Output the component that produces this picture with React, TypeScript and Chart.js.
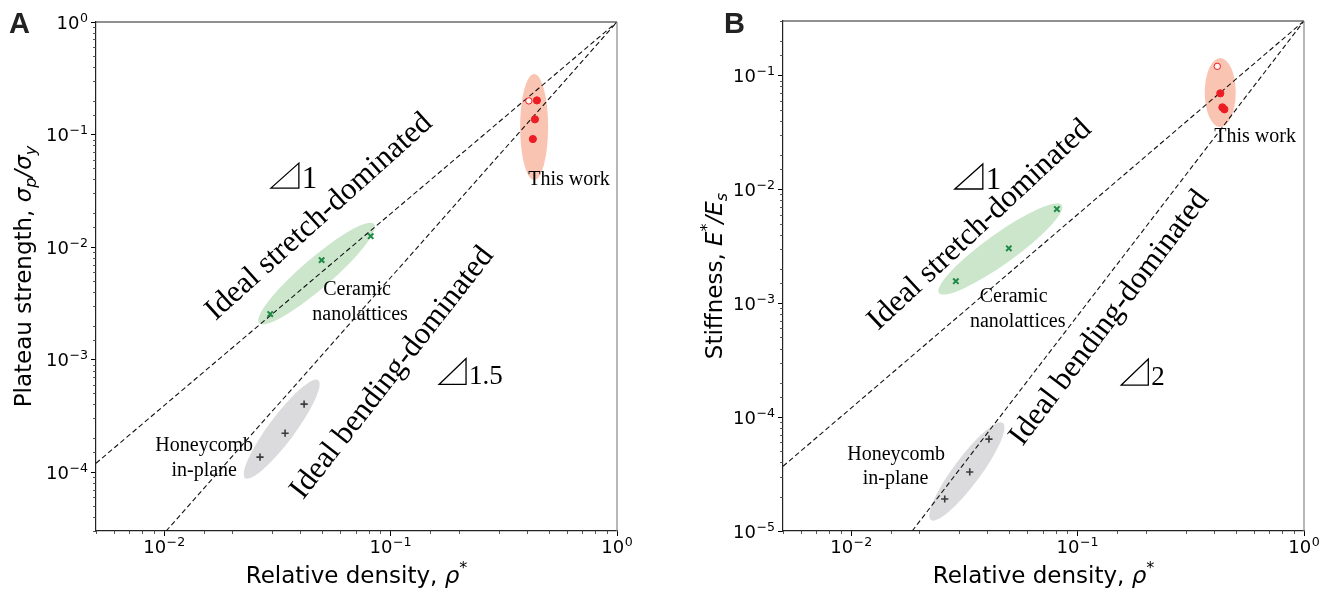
import React, { useEffect, useRef } from "react";
import { Chart, registerables } from "chart.js";

Chart.register(...registerables);

// ===== Axis limits =====
const densityLimits = [0.005, 1];
const strengthLimits = [3e-5, 1];
const stiffnessLimits = [1e-5, 0.3];

// ===== Panel A: plateau strength =====
const aThisWorkDensity = [0.443, 0.434, 0.425];
const aThisWorkStrength = [0.201, 0.1365, 0.0912];
const aThisWorkOpenDensity = [0.408];
const aThisWorkOpenStrength = [0.199];
const aCeramicDensity = [0.0294, 0.0496, 0.0817];
const aCeramicStrength = [0.00254, 0.00766, 0.0125];
const aHoneycombDensity = [0.0265, 0.0342, 0.0415];
const aHoneycombStrength = [1.36e-4, 2.22e-4, 4.02e-4];
const aStretchLineDensity = [0.005, 1];
const aStretchLineStrength = [1.2e-4, 1];
const aBendingLineDensity = [0.0102, 1];
const aBendingLineStrength = [3e-5, 1];

// ===== Panel B: stiffness =====
const bThisWorkDensity = [0.427, 0.436, 0.445];
const bThisWorkStiffness = [0.0695, 0.0524, 0.0503];
const bThisWorkOpenDensity = [0.414];
const bThisWorkOpenStiffness = [0.12];
const bCeramicDensity = [0.029, 0.0497, 0.081];
const bCeramicStiffness = [0.00156, 0.00303, 0.0067];
const bHoneycombDensity = [0.0259, 0.0334, 0.0406];
const bHoneycombStiffness = [1.91e-5, 3.3e-5, 6.4e-5];
const bStretchLineDensity = [0.005, 1];
const bStretchLineStiffness = [3.7e-5, 0.3];
const bBendingLineDensity = [0.0186, 1];
const bBendingLineStiffness = [1e-5, 0.3];

// ===== Text labels =====
const tickBase = "10";
const stretchLabel = "Ideal stretch-dominated";
const bendingLabel = "Ideal bending-dominated";
const thisWorkLabel = "This work";
const ceramicLabel = ["Ceramic", "nanolattices"];
const honeycombLabel = ["Honeycomb", "in-plane"];
const xTitle = [
  { t: "Relative density, " },
  { t: "ρ", it: true },
  { t: "*", sup: true },
];
const aYTitle = [
  { t: "Plateau strength, " },
  { t: "σ", it: true },
  { t: "p", it: true, sub: true },
  { t: "/σ", it: true },
  { t: "y", it: true, sub: true },
];
const bYTitle = [
  { t: "Stiffness, " },
  { t: "E", it: true },
  { t: "*", sup: true },
  { t: "/E", it: true },
  { t: "s", it: true, sub: true },
];

const isDecade = (v: number) => {
  const l = Math.log10(v);
  return Math.abs(l - Math.round(l)) < 1e-6;
};
const decadeExponent = (v: number) => String(Math.round(Math.log10(v))).replace("-", "\u2212");

const pts = (xs: number[], ys: number[]) => xs.map((x, i) => ({ x, y: ys[i] }));

type Seg = { t: string; it?: boolean; sub?: boolean; sup?: boolean };

const TITLE_SIZE = 23;
const TICK_SIZE = 18;

function drawRich(ctx: CanvasRenderingContext2D, segs: Seg[], x: number, y: number, size: number, rot: number) {
  ctx.save();
  ctx.translate(x, y);
  ctx.rotate(rot);
  const fontFor = (s: Seg) =>
    `${s.it ? "italic " : ""}${s.sub || s.sup ? Math.round(size * 0.7) : size}px "DejaVu Sans"`;
  let total = 0;
  const widths = segs.map((s) => {
    ctx.font = fontFor(s);
    const w = ctx.measureText(s.t).width;
    total += w;
    return w;
  });
  let cx = -total / 2;
  ctx.textAlign = "left";
  ctx.textBaseline = "alphabetic";
  ctx.fillStyle = "#000";
  segs.forEach((s, i) => {
    ctx.font = fontFor(s);
    const dy = s.sub ? size * 0.22 : s.sup ? -size * 0.42 : 0;
    ctx.fillText(s.t, cx, dy);
    cx += widths[i];
  });
  ctx.restore();
}

function drawTickLabel(ctx: CanvasRenderingContext2D, v: number, x: number, y: number, align: "center" | "right") {
  const exp = decadeExponent(v);
  const big = `${TICK_SIZE}px "DejaVu Sans"`;
  const small = `${Math.round(TICK_SIZE * 0.7 * 10) / 10}px "DejaVu Sans"`;
  ctx.font = big;
  const wb = ctx.measureText(tickBase).width;
  ctx.font = small;
  const we = ctx.measureText(exp).width;
  const total = wb + 0.5 + we;
  const x0 = align === "center" ? x - total / 2 : x - total;
  ctx.textAlign = "left";
  ctx.textBaseline = "alphabetic";
  ctx.fillStyle = "#000";
  ctx.font = big;
  ctx.fillText(tickBase, x0, y);
  ctx.font = small;
  ctx.fillText(exp, x0 + wb + 0.5, y - 7);
}

type Panel = {
  letter: string;
  letterX: number;
  yLimits: number[];
  yTitle: Seg[];
  yTitleX: number;
  layout: { left: number; right: number; top: number; xHeight: number; yWidth: number };
  datasets: any[];
  ellipses: { x: number[]; y: number[]; w: number; color: string }[];
  texts: { text: string; x: number; y: number; size: number; angle: number }[];
  triangles: { x: number; y: number; w: number; h: number; label: string; size: number }[];
};

function makeDatasets(
  tw: [number[], number[]], two: [number[], number[]], cer: [number[], number[]],
  hc: [number[], number[]], sl: [number[], number[]], bl: [number[], number[]]
) {
  return [
    { data: pts(tw[0], tw[1]), pointStyle: "circle", pointRadius: 3.6, borderWidth: 1,
      backgroundColor: "#ec1c24", borderColor: "#ec1c24" },
    { data: pts(two[0], two[1]), pointStyle: "circle", pointRadius: 3.2, borderWidth: 1,
      backgroundColor: "rgba(255,255,255,0.8)", borderColor: "#ec1c24" },
    { data: pts(cer[0], cer[1]), pointStyle: "crossRot", pointRadius: 3.8, borderWidth: 2,
      borderColor: "#1f8a45", backgroundColor: "#1f8a45" },
    { data: pts(hc[0], hc[1]), pointStyle: "cross", pointRadius: 3.6, borderWidth: 1.6,
      borderColor: "#3a3a3a", backgroundColor: "#3a3a3a" },
    { data: pts(sl[0], sl[1]), showLine: true, pointRadius: 0, borderColor: "#111",
      borderWidth: 1.1, borderDash: [5, 3] },
    { data: pts(bl[0], bl[1]), showLine: true, pointRadius: 0, borderColor: "#111",
      borderWidth: 1.1, borderDash: [5, 3] },
  ];
}

const RED_FILL = "rgba(244,150,115,0.55)";
const GREEN_FILL = "rgba(140,200,140,0.45)";
const GRAY_FILL = "rgba(170,170,175,0.42)";

const panelA: Panel = {
  letter: "A",
  letterX: 9,
  yLimits: strengthLimits,
  yTitle: aYTitle,
  yTitleX: 31,
  layout: { left: 0, right: 52, top: 22, xHeight: 64, yWidth: 96 },
  datasets: makeDatasets(
    [aThisWorkDensity, aThisWorkStrength], [aThisWorkOpenDensity, aThisWorkOpenStrength],
    [aCeramicDensity, aCeramicStrength], [aHoneycombDensity, aHoneycombStrength],
    [aStretchLineDensity, aStretchLineStrength], [aBendingLineDensity, aBendingLineStrength]
  ),
  ellipses: [
    { x: [0.4305, 0.4305], y: [0.345, 0.0394], w: 28, color: RED_FILL },
    { x: [0.02624, 0.0845], y: [2.11e-3, 0.016], w: 30, color: GREEN_FILL },
    { x: [0.0228, 0.0479], y: [8.85e-5, 6.57e-4], w: 26, color: GRAY_FILL },
  ],
  texts: [
    { text: stretchLabel, x: 0.0483, y: 0.0185, size: 31, angle: 42 },
    { text: bendingLabel, x: 0.1017, y: 7.6e-4, size: 31, angle: 52 },
    { text: thisWorkLabel, x: 0.614, y: 0.0394, size: 20, angle: 0 },
    { text: ceramicLabel[0], x: 0.0711, y: 4.15e-3, size: 20, angle: 0 },
    { text: ceramicLabel[1], x: 0.0733, y: 2.49e-3, size: 20, angle: 0 },
    { text: honeycombLabel[0], x: 0.01503, y: 1.7e-4, size: 20, angle: 0 },
    { text: honeycombLabel[1], x: 0.01503, y: 1.02e-4, size: 20, angle: 0 },
  ],
  triangles: [
    { x: 0.0296, y: 0.0334, w: 28, h: 25, label: "1", size: 31 },
    { x: 0.1637, y: 6.02e-4, w: 27, h: 26, label: "1.5", size: 27 },
  ],
};

const panelB: Panel = {
  letter: "B",
  letterX: 55,
  yLimits: stiffnessLimits,
  yTitle: bYTitle,
  yTitleX: 53,
  layout: { left: 0, right: 34, top: 21, xHeight: 64, yWidth: 114 },
  datasets: makeDatasets(
    [bThisWorkDensity, bThisWorkStiffness], [bThisWorkOpenDensity, bThisWorkOpenStiffness],
    [bCeramicDensity, bCeramicStiffness], [bHoneycombDensity, bHoneycombStiffness],
    [bStretchLineDensity, bStretchLineStiffness], [bBendingLineDensity, bBendingLineStiffness]
  ),
  ellipses: [
    { x: [0.4266, 0.4266], y: [0.142, 0.0352], w: 31, color: RED_FILL },
    { x: [0.02443, 0.0851], y: [1.23e-3, 7.28e-3], w: 30, color: GREEN_FILL },
    { x: [0.0225, 0.0468], y: [1.25e-5, 8.87e-5], w: 27, color: GRAY_FILL },
  ],
  texts: [
    { text: stretchLabel, x: 0.037, y: 4.85e-3, size: 31, angle: 43 },
    { text: bendingLabel, x: 0.1384, y: 7.4e-4, size: 31, angle: 53 },
    { text: thisWorkLabel, x: 0.608, y: 0.0288, size: 20, angle: 0 },
    { text: ceramicLabel[0], x: 0.0522, y: 1.13e-3, size: 20, angle: 0 },
    { text: ceramicLabel[1], x: 0.0544, y: 6.83e-4, size: 20, angle: 0 },
    { text: honeycombLabel[0], x: 0.0158, y: 4.64e-5, size: 20, angle: 0 },
    { text: honeycombLabel[1], x: 0.0157, y: 2.86e-5, size: 20, angle: 0 },
  ],
  triangles: [
    { x: 0.0287, y: 0.01005, w: 28, h: 25, label: "1", size: 31 },
    { x: 0.156, y: 1.91e-4, w: 27, h: 26, label: "2", size: 27 },
  ],
};

function decorPlugin(p: Panel) {
  return {
    id: "decor" + p.letter,
    beforeDatasetsDraw(chart: any) {
      const { ctx, chartArea: a } = chart;
      const xs = chart.scales.x, ys = chart.scales.y;
      ctx.save();
      ctx.beginPath();
      ctx.rect(a.left, a.top, a.right - a.left, a.bottom - a.top);
      ctx.clip();
      for (const e of p.ellipses) {
        const x1 = xs.getPixelForValue(e.x[0]), y1 = ys.getPixelForValue(e.y[0]);
        const x2 = xs.getPixelForValue(e.x[1]), y2 = ys.getPixelForValue(e.y[1]);
        const len = Math.hypot(x2 - x1, y2 - y1);
        const ang = Math.atan2(y2 - y1, x2 - x1);
        ctx.beginPath();
        ctx.ellipse((x1 + x2) / 2, (y1 + y2) / 2, len / 2, e.w / 2, ang, 0, Math.PI * 2);
        ctx.fillStyle = e.color;
        ctx.fill();
      }
      ctx.restore();
    },
    afterDatasetsDraw(chart: any) {
      const { ctx } = chart;
      const xs = chart.scales.x, ys = chart.scales.y;
      ctx.save();
      ctx.fillStyle = "#000";
      for (const t of p.texts) {
        const px = xs.getPixelForValue(t.x), py = ys.getPixelForValue(t.y);
        ctx.save();
        ctx.translate(px, py);
        ctx.rotate((-t.angle * Math.PI) / 180);
        ctx.font = `${t.size}px "Liberation Serif"`;
        ctx.textAlign = "center";
        ctx.textBaseline = "middle";
        ctx.fillText(t.text, 0, 0);
        ctx.restore();
      }
      for (const tr of p.triangles) {
        const px = xs.getPixelForValue(tr.x), py = ys.getPixelForValue(tr.y);
        ctx.beginPath();
        ctx.moveTo(px, py);
        ctx.lineTo(px + tr.w, py - tr.h);
        ctx.lineTo(px + tr.w, py);
        ctx.closePath();
        ctx.strokeStyle = "#000";
        ctx.lineWidth = 1.3;
        ctx.stroke();
        ctx.font = `${tr.size}px "Liberation Serif"`;
        ctx.textAlign = "left";
        ctx.textBaseline = "alphabetic";
        ctx.fillText(tr.label, px + tr.w + 3, py);
      }
      ctx.restore();
    },
    afterDraw(chart: any) {
      const { ctx, chartArea: a } = chart;
      const xs = chart.scales.x, ys = chart.scales.y;
      ctx.save();
      // minor ticks
      ctx.strokeStyle = "#444";
      ctx.lineWidth = 0.9;
      ctx.beginPath();
      for (const t of xs.ticks) {
        if (isDecade(t.value)) continue;
        const px = Math.round(xs.getPixelForValue(t.value)) + 0.5;
        ctx.moveTo(px, a.bottom);
        ctx.lineTo(px, a.bottom + 3);
      }
      for (const t of ys.ticks) {
        if (isDecade(t.value)) continue;
        const py = Math.round(ys.getPixelForValue(t.value)) + 0.5;
        ctx.moveTo(a.left, py);
        ctx.lineTo(a.left - 3, py);
      }
      ctx.stroke();
      // decade tick labels (10 with superscript exponent)
      for (const t of xs.ticks) {
        if (!isDecade(t.value)) continue;
        drawTickLabel(ctx, t.value, xs.getPixelForValue(t.value), a.bottom + 22, "center");
      }
      for (const t of ys.ticks) {
        if (!isDecade(t.value)) continue;
        drawTickLabel(ctx, t.value, a.left - 8, ys.getPixelForValue(t.value) + 6.5, "right");
      }
      // box
      ctx.lineWidth = 1.2;
      ctx.strokeStyle = "#222";
      ctx.beginPath();
      ctx.moveTo(a.left, a.top);
      ctx.lineTo(a.right, a.top);
      ctx.stroke();
      ctx.strokeStyle = "#888";
      ctx.beginPath();
      ctx.moveTo(a.right, a.top);
      ctx.lineTo(a.right, a.bottom);
      ctx.stroke();
      // titles
      drawRich(ctx, xTitle, (a.left + a.right) / 2, 583, TITLE_SIZE, 0);
      drawRich(ctx, p.yTitle, p.yTitleX, (a.top + a.bottom) / 2, TITLE_SIZE, -Math.PI / 2);
      // panel letter
      ctx.fillStyle = "#222";
      ctx.font = 'bold 29px "Liberation Sans"';
      ctx.textAlign = "left";
      ctx.textBaseline = "alphabetic";
      ctx.fillText(p.letter, p.letterX, 33);
      ctx.restore();
    },
  };
}

function makeConfig(p: Panel): any {
  const gridOpts = {
    display: true,
    drawOnChartArea: false,
    drawTicks: true,
    tickLength: 5,
    tickWidth: 1,
    tickColor: (c: any) => (c.tick && isDecade(c.tick.value) ? "#000" : "rgba(0,0,0,0)"),
  };
  return {
    type: "scatter",
    data: { datasets: p.datasets },
    plugins: [decorPlugin(p)],
    options: {
      responsive: false,
      animation: false,
      events: [],
      layout: { padding: { left: p.layout.left, right: p.layout.right, top: p.layout.top, bottom: 0 } },
      plugins: { legend: { display: false }, tooltip: { enabled: false } },
      scales: {
        x: {
          type: "logarithmic",
          min: densityLimits[0],
          max: densityLimits[1],
          grid: gridOpts,
          border: { display: true, color: "#222", width: 1.2 },
          ticks: { display: false, autoSkip: false, maxRotation: 0, minRotation: 0 },
          afterFit: (s: any) => { s.height = p.layout.xHeight; },
        },
        y: {
          type: "logarithmic",
          min: p.yLimits[0],
          max: p.yLimits[1],
          grid: gridOpts,
          border: { display: true, color: "#222", width: 1.2 },
          ticks: { display: false, autoSkip: false },
          afterFit: (s: any) => { s.width = p.layout.yWidth; },
        },
      },
    },
  };
}

function PanelChart({ panel, left }: { panel: Panel; left: number }) {
  const ref = useRef<HTMLCanvasElement | null>(null);
  useEffect(() => {
    if (!ref.current) return;
    const chart = new Chart(ref.current, makeConfig(panel));
    return () => chart.destroy();
  }, [panel]);
  return (
    <canvas
      ref={ref}
      width={669}
      height={595}
      style={{ position: "absolute", left, top: 0, width: 669, height: 595 }}
    />
  );
}

export default function App() {
  return (
    <div
      style={{
        position: "fixed",
        left: 0,
        top: 0,
        width: 1338,
        height: 595,
        background: "#fff",
        overflow: "hidden",
      }}
    >
      <PanelChart panel={panelA} left={0} />
      <PanelChart panel={panelB} left={669} />
    </div>
  );
}
